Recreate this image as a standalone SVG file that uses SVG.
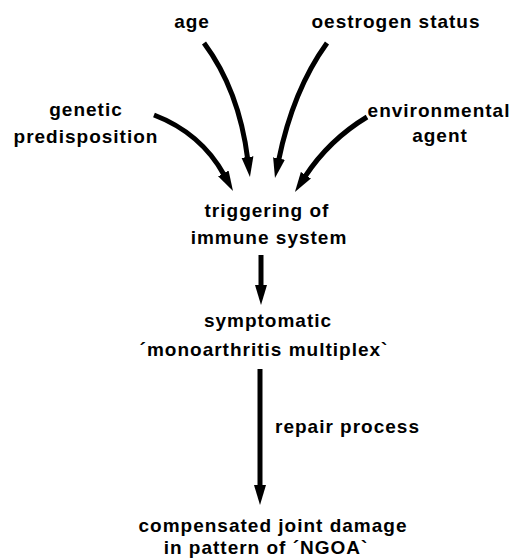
<svg xmlns="http://www.w3.org/2000/svg" width="515" height="559" viewBox="0 0 515 559">
<style>
text{font-family:"Liberation Sans",Arial,sans-serif;font-weight:bold;font-size:19px;fill:#000;letter-spacing:1px;text-anchor:middle}
.c{fill:none;stroke:#000;stroke-width:5;stroke-linecap:butt}
</style>
<defs>
<marker id="ah" markerUnits="userSpaceOnUse" markerWidth="24" markerHeight="14" viewBox="0 -7 24 14" refX="2" refY="0" orient="auto">
<path d="M0,-6 L20,0 L0,6 Z" fill="#000"/>
</marker>
</defs>
<rect width="515" height="559" fill="#fff"/>
<g id="connectors">
<path class="c" d="M204,43 Q239,90 247.7,159.1" marker-end="url(#ah)"/>
<path class="c" d="M327,43 Q293,90 278.6,160.4" marker-end="url(#ah)"/>
<path class="c" d="M154,115 Q201,133 224.3,175.2" marker-end="url(#ah)"/>
<path class="c" d="M367,117 Q329,140 304.8,176.9" marker-end="url(#ah)"/>
<path class="c" d="M261,255 L261,287" marker-end="url(#ah)"/>
<path class="c" d="M260,369 L260,487" marker-end="url(#ah)"/>
</g>
<g id="age"><text x="192" y="28">age</text></g>
<g id="oestrogen"><text x="396" y="28">oestrogen status</text></g>
<g id="genetic"><text x="86" y="116">genetic</text><text x="86" y="143">predisposition</text></g>
<g id="environmental"><text x="439" y="117">environmental</text><text x="440" y="142">agent</text></g>
<g id="triggering"><text x="267" y="217">triggering of</text><text x="269" y="244">immune system</text></g>
<g id="symptomatic"><text x="268" y="327">symptomatic</text><text x="264" y="356">´monoarthritis multiplex`</text></g>
<g id="repair"><text x="275" y="433" style="text-anchor:start">repair process</text></g>
<g id="compensated"><text x="273" y="532">compensated joint damage</text><text x="266" y="554">in pattern of ´NGOA`</text></g>
</svg>
